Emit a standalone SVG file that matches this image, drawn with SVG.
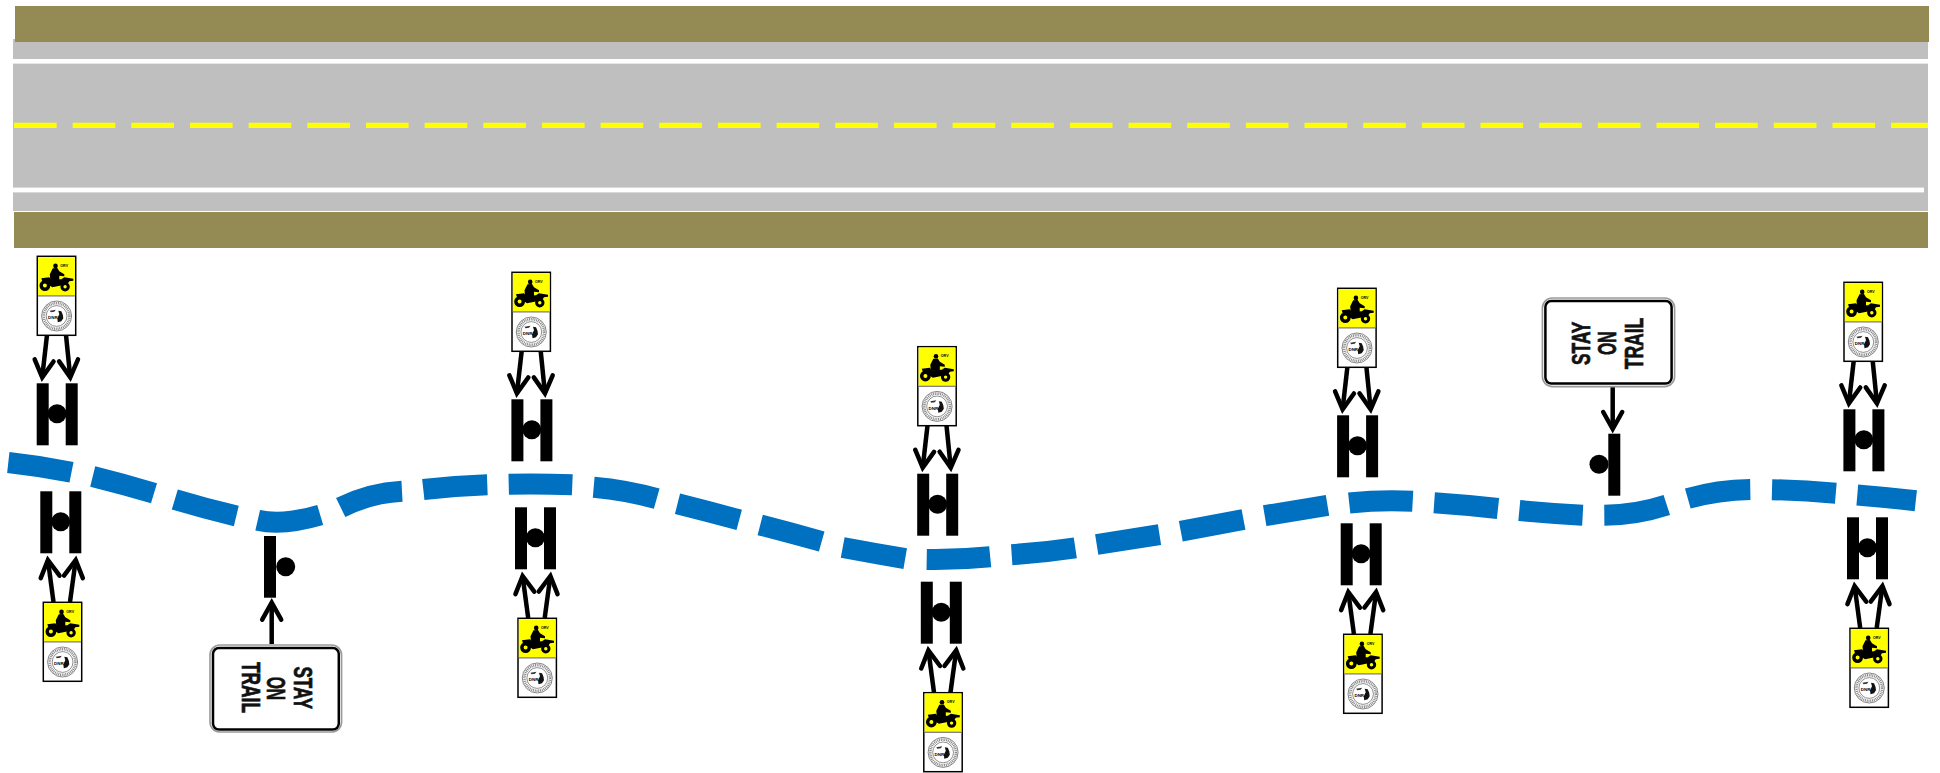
<svg xmlns="http://www.w3.org/2000/svg" width="1940" height="773" viewBox="0 0 1940 773">
<style>
.shoulder{fill:#948a54}
.road{fill:#bfbfbf}
.edge{fill:#fff}
.center{fill:none;stroke:#ff0;stroke-width:5.3;stroke-dasharray:42.66 16}
.trail{fill:none;stroke:#0070c0;stroke-width:21}
.cn{fill:none;stroke:#000;stroke-width:4.5;marker-end:url(#open)}
.sg-o{fill:#fff;stroke:#9a9a9a;stroke-width:1.6}
.sg-i{fill:#fff;stroke:#000;stroke-width:2.5}
.sg-t{font-family:"Liberation Sans Narrow","Liberation Sans",Arial,sans-serif;font-weight:700;font-size:25px;text-anchor:middle;fill:#111;stroke:#111;stroke-width:0.7}
.small{font-family:"Liberation Sans",Arial,sans-serif;font-weight:700;fill:#000}
</style>
<defs>
<marker id="open" markerUnits="userSpaceOnUse" viewBox="-24 -14 32 28" markerWidth="32" markerHeight="28" refX="0" refY="0" orient="auto">
<path d="M-17,-9.5 L0,0 L-17,9.5" fill="none" stroke="#000" stroke-width="4.5" stroke-linecap="round" stroke-linejoin="miter"/>
</marker>
<g id="post2">
<rect x="0" y="0" width="12" height="62" fill="#000"/>
<rect x="29" y="0" width="12" height="62" fill="#000"/>
<circle cx="20.4" cy="30.5" r="9.5" fill="#000"/>
</g>
<g id="orv">
<rect x="0" y="0" width="38.4" height="79" fill="#fff" stroke="#000" stroke-width="1.5"/>
<rect x="0.8" y="0.8" width="36.8" height="38.6" fill="#ff0"/>
<rect x="0.8" y="39" width="36.8" height="1.2" fill="#777"/>
<path d="M15.5,12 L20,11.8 L22,15 L27,18 L27,20 L22,19.5 L22,24 L13,24 L12.5,18 Z" fill="#000"/>
<circle cx="18.2" cy="9.6" r="2.3" fill="#000"/>
<path d="M4,22 L12,21 L14,23.5 L24,23 L27,21 L36,22.5 L36,24.5 L32,25 L30,28 L25,29 L15,31 L12,29 L10,25 L5,25 Z" fill="#000"/>
<circle cx="7.6" cy="29.3" r="3.7" fill="#ff0" stroke="#000" stroke-width="3.4"/>
<circle cx="27.8" cy="30.4" r="3.2" fill="#ff0" stroke="#000" stroke-width="3"/>
<text class="small" x="23" y="10.3" font-size="3.6">ORV</text>
<circle cx="19.3" cy="59.7" r="15" fill="#fff" stroke="#666" stroke-width="0.8"/>
<circle cx="19.3" cy="59.7" r="12.8" fill="none" stroke="#888" stroke-width="2.6" stroke-dasharray="1 0.8"/>
<circle cx="19.3" cy="59.7" r="10.4" fill="#fff" stroke="#444" stroke-width="0.6"/>
<path d="M21,54.5 L24,55 L25.5,58.5 L26,62 L24,65 L20.5,66 L20,62 L22,58 Z" fill="#111"/>
<path d="M12.5,54.5 L18.5,53.5 L17,55.5 L13.5,56 Z" fill="#333"/>
<text class="small" x="10.8" y="63" font-size="4.4">DNR</text>
</g>
</defs>

<g id="roadway">
<rect class="road" x="13" y="39" width="1915" height="172"/>
<rect class="shoulder" x="15" y="6" width="1914" height="36"/>
<rect class="shoulder" x="14" y="212" width="1914" height="36"/>
<rect class="edge" x="13" y="59" width="1915" height="4.6"/>
<rect class="edge" x="13" y="187.6" width="1911" height="4.8"/>
<line class="center" x1="14" y1="125.3" x2="1928" y2="125.3"/>
</g>

<path id="trail" class="trail" d="M8.3,462.5 Q40,466 71.5,472.2 M92.7,476.5 Q123,484 154,493.3 M174.8,499.5 Q205,508.5 236.3,516 M257.7,520.2 Q283,526 320.2,515 M340.7,507.5 Q370,493 402,491.3 M423.3,489.5 Q455,486 487.3,484.8 M508.7,484.2 Q540,483.5 572.3,484.8 M593.7,487.2 Q626,490 656.7,498.7 M677.5,503.8 Q708,511.5 739.2,519.8 M760.2,525 Q791,533 821.7,541.5 M842.7,547.5 Q875,553.5 905.2,558.7 M926.7,559.5 Q958,560 990.2,556.8 M1011.7,554.7 Q1044,552.5 1075.3,547.8 M1096.7,544.5 Q1128,539.5 1159.5,534.7 M1180.8,531.3 Q1212,525.5 1243.5,519.5 M1264.7,515.7 Q1296,510.5 1327.5,505.3 M1349.2,503 Q1381,499.5 1412.7,501.2 M1434.2,502.8 Q1466,505 1498,508.5 M1519.3,510.5 Q1551,513.5 1582.7,515.2 M1604.3,515.3 Q1636,515 1666.8,505 M1687.8,498.5 Q1718,490 1750.3,489.5 M1772,489.7 Q1804,490.5 1835.8,493.2 M1857.3,495 Q1887,497.5 1915.8,500.7"/>

<g id="connectors">
<line class="cn" x1="47" y1="335" x2="42.2" y2="377.3"/>
<line class="cn" x1="66" y1="335" x2="70.26" y2="377.3"/>
<line class="cn" x1="53.5" y1="602" x2="47.9" y2="560"/>
<line class="cn" x1="70" y1="602" x2="75.7" y2="560"/>
<line class="cn" x1="521.7" y1="351" x2="516.9" y2="393.3"/>
<line class="cn" x1="540.7" y1="351" x2="544.96" y2="393.3"/>
<line class="cn" x1="528.2" y1="618" x2="522.6" y2="576"/>
<line class="cn" x1="544.7" y1="618" x2="550.4" y2="576"/>
<line class="cn" x1="927.5" y1="425.4" x2="922.7" y2="467.7"/>
<line class="cn" x1="946.5" y1="425.4" x2="950.76" y2="467.7"/>
<line class="cn" x1="934" y1="692.4" x2="928.4" y2="650.4"/>
<line class="cn" x1="950.5" y1="692.4" x2="956.2" y2="650.4"/>
<line class="cn" x1="1347.4" y1="367" x2="1342.6" y2="409.3"/>
<line class="cn" x1="1366.4" y1="367" x2="1370.66" y2="409.3"/>
<line class="cn" x1="1353.9" y1="634" x2="1348.3" y2="592"/>
<line class="cn" x1="1370.4" y1="634" x2="1376.1" y2="592"/>
<line class="cn" x1="1853.7" y1="361" x2="1848.9" y2="403.3"/>
<line class="cn" x1="1872.7" y1="361" x2="1876.96" y2="403.3"/>
<line class="cn" x1="1860.2" y1="628" x2="1854.6" y2="586"/>
<line class="cn" x1="1876.7" y1="628" x2="1882.4" y2="586"/>
<line class="cn" x1="271.7" y1="644" x2="271.7" y2="602.7"/>
<line class="cn" x1="1612.7" y1="387" x2="1612.7" y2="429"/>
</g>

<g id="post-1a"><use href="#post2" x="36.7" y="383.3"/></g>
<g id="post-1b"><use href="#post2" x="40.3" y="491.3"/></g>
<g id="post-2a"><use href="#post2" x="511.4" y="399.3"/></g>
<g id="post-2b"><use href="#post2" x="515" y="507.3"/></g>
<g id="post-3a"><use href="#post2" x="917.2" y="473.7"/></g>
<g id="post-3b"><use href="#post2" x="920.8" y="581.7"/></g>
<g id="post-4a"><use href="#post2" x="1337.1" y="415.3"/></g>
<g id="post-4b"><use href="#post2" x="1340.7" y="523.3"/></g>
<g id="post-5a"><use href="#post2" x="1843.4" y="409.3"/></g>
<g id="post-5b"><use href="#post2" x="1847" y="517.3"/></g>

<g id="sign-1a"><use href="#orv" x="37.3" y="256.3"/></g>
<g id="sign-1b"><use href="#orv" x="43.3" y="602.3"/></g>
<g id="sign-2a"><use href="#orv" x="512" y="272.3"/></g>
<g id="sign-2b"><use href="#orv" x="518" y="618.3"/></g>
<g id="sign-3a"><use href="#orv" x="917.8" y="346.7"/></g>
<g id="sign-3b"><use href="#orv" x="923.8" y="692.7"/></g>
<g id="sign-4a"><use href="#orv" x="1337.7" y="288.3"/></g>
<g id="sign-4b"><use href="#orv" x="1343.7" y="634.3"/></g>
<g id="sign-5a"><use href="#orv" x="1844" y="282.3"/></g>
<g id="sign-5b"><use href="#orv" x="1850" y="628.3"/></g>

<g id="stay-post-1">
<rect x="264" y="536" width="12" height="61.7" fill="#000"/>
<circle cx="285.7" cy="566.7" r="9.5" fill="#000"/>
</g>
<g id="stay-sign-1">
<rect class="sg-o" x="210" y="645" width="131.6" height="87" rx="10"/>
<rect class="sg-i" x="213" y="648" width="125.8" height="81.6" rx="6"/>
<text class="sg-t" transform="translate(294,687.8) rotate(90)" textLength="42.7" lengthAdjust="spacingAndGlyphs">STAY</text>
<text class="sg-t" transform="translate(267.3,688.3) rotate(90)" textLength="23.3" lengthAdjust="spacingAndGlyphs">ON</text>
<text class="sg-t" transform="translate(241.7,687.5) rotate(90)" textLength="51" lengthAdjust="spacingAndGlyphs">TRAIL</text>
</g>
<g id="stay-post-2">
<rect x="1608.3" y="433.7" width="12" height="62" fill="#000"/>
<circle cx="1599" cy="464.3" r="9.5" fill="#000"/>
</g>
<g id="stay-sign-2">
<rect class="sg-o" x="1542.4" y="298" width="132.2" height="88.6" rx="10"/>
<rect class="sg-i" x="1545.4" y="301" width="126.2" height="82.6" rx="6"/>
<text class="sg-t" transform="translate(1590,343.3) rotate(-90)" textLength="43.3" lengthAdjust="spacingAndGlyphs">STAY</text>
<text class="sg-t" transform="translate(1616,343.3) rotate(-90)" textLength="23.3" lengthAdjust="spacingAndGlyphs">ON</text>
<text class="sg-t" transform="translate(1642.7,343.5) rotate(-90)" textLength="51.7" lengthAdjust="spacingAndGlyphs">TRAIL</text>
</g>
</svg>
